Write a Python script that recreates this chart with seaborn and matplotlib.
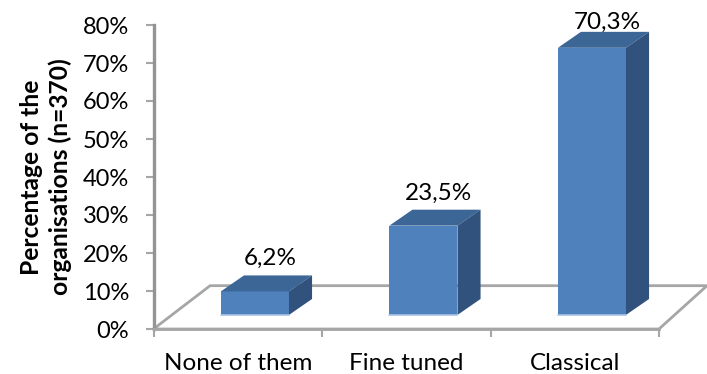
import matplotlib
matplotlib.use("Agg")
import matplotlib.pyplot as plt
from matplotlib.patches import Polygon
import pandas as pd
import seaborn as sns

categories = ["None of them", "Fine tuned", "Classical"]
values = [6.2, 23.5, 70.3]
labels = ["6,2%", "23,5%", "70,3%"]
y_ticks = [0, 10, 20, 30, 40, 50, 60, 70, 80]

FRONT = "#4f81bd"
TOP = "#3c6696"
SIDE = "#30527c"
GREY = "#a6a6a6"

sns.set_theme(style="white")
plt.rcParams["font.family"] = ["Lato", "DejaVu Sans"]

fig = plt.figure(figsize=(7.07, 3.74), dpi=100)
ax = fig.add_axes([153.5 / 707, 1 - 329 / 374, 505.5 / 707, 304 / 374])

df = pd.DataFrame({"cat": categories, "val": values})

xmin, xmax = -0.602, 2.398

# floor offset and 3d depth, in data units
floor = 3.7
dx = 0.137
dy = 4.2

# back edge of the floor, behind the bars
ax.plot([xmin, xmin + 0.336, xmax + 0.285, xmax, xmin],
        [0, 11.4, 11.4, 0, 0], color=GREY, lw=2, clip_on=False, zorder=1)

sns.barplot(data=df, x="cat", y="val", bottom=floor, width=0.404, color=FRONT,
            saturation=1, linewidth=0, ax=ax, zorder=3)

# top and side faces built from each bar
for p in list(ax.patches):
    x0 = p.get_x()
    x1 = x0 + p.get_width()
    y0 = p.get_y()
    y1 = y0 + p.get_height()
    ax.add_patch(Polygon([(x0, y1), (x0 + dx, y1 + dy), (x1 + dx, y1 + dy), (x1, y1)],
                         facecolor=TOP, edgecolor="none", clip_on=False, zorder=3))
    ax.add_patch(Polygon([(x1, y0), (x1 + dx, y0 + dy), (x1 + dx, y1 + dy), (x1, y1)],
                         facecolor=SIDE, edgecolor="none", clip_on=False, zorder=3))
    # pale line along the foot of the bar
    ax.plot([x0, x1], [y0, y0], color="#a9c3e4", lw=1.2, zorder=4)

for i, (v, lab) in enumerate(zip(values, labels)):
    ax.text(i + 0.09, min(v + floor + dy + 4.4, 80.6), lab, ha="center", va="center",
            fontsize=17.5, color="black", zorder=5, clip_on=False)

ax.set_xlim(xmin, xmax)
ax.set_ylim(0, 80)
ax.set_yticks(y_ticks)
ax.set_yticklabels([f"{t}%" for t in y_ticks], fontsize=17, color="black")
ax.set_xticks([i - 0.1 for i in range(3)])
ax.set_xticklabels(categories, fontsize=17.5, color="black")
ax.set_xticks([xmin + i for i in range(4)], minor=True)
ax.tick_params(axis="x", which="major", length=0, pad=17)
ax.tick_params(axis="x", which="minor", length=6, width=1.5, color=GREY, bottom=True)
ax.tick_params(axis="y", length=6, width=1.5, color=GREY, left=True, pad=11.5)

ax.set_xlabel("")
ax.set_ylabel("Percentage of the\norganisations (n=370)", fontsize=17.7, fontweight="bold",
              color="black", labelpad=8, linespacing=1.25)

for name in ["top", "right"]:
    ax.spines[name].set_visible(False)
ax.spines["left"].set_color("#949494")
ax.spines["left"].set_linewidth(2.4)
ax.spines["bottom"].set_color(GREY)
ax.spines["bottom"].set_linewidth(2)
ax.patch.set_alpha(0)

fig.savefig("out.png", dpi=100, facecolor="white")
